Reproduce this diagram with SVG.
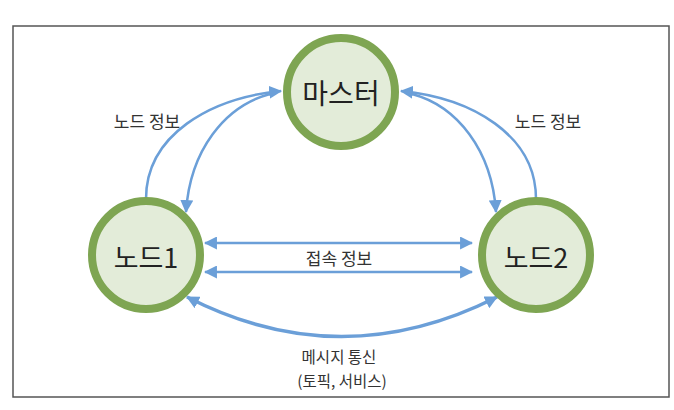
<svg xmlns="http://www.w3.org/2000/svg" width="674" height="410" viewBox="0 0 674 410">
<style>
.node ellipse{fill:#e3ecd9;stroke:#7ea552;stroke-width:8}
.ntxt{font-family:"Noto Sans CJK KR","Noto Sans",sans-serif;fill:#222;text-anchor:middle;dominant-baseline:central}
.lbl{font-family:"Noto Sans CJK KR","Noto Sans",sans-serif;fill:#333;text-anchor:middle;font-size:17px}
.sm{font-size:15.5px}
.conn{fill:none;stroke:#6b9fd8;stroke-width:2.5}
</style>
<defs>
<marker id="ah" viewBox="0 0 12 12" refX="11" refY="6" markerWidth="13" markerHeight="13" markerUnits="userSpaceOnUse" orient="auto-start-reverse">
<path d="M0,0 L12,6 L0,12 z" fill="#6b9fd8"/>
</marker>
</defs>
<rect x="0" y="0" width="674" height="410" fill="#fff"/>
<rect x="13" y="26" width="656" height="371" fill="none" stroke="#555" stroke-width="1.5"/>
<g id="connectors">
<path class="conn" d="M146,199 C146,135 210,98 281,91" marker-end="url(#ah)"/>
<path class="conn" d="M270,94 C225,106 190,150 186,212" marker-end="url(#ah)"/>
<path class="conn" d="M536,199 C536,135 472,98 401,91" marker-end="url(#ah)"/>
<path class="conn" d="M412,94 C457,106 492,150 496,212" marker-end="url(#ah)"/>
<path class="conn" d="M205,243 L472,243" marker-start="url(#ah)" marker-end="url(#ah)"/>
<path class="conn" d="M205,272 L472,272" marker-start="url(#ah)" marker-end="url(#ah)"/>
<path class="conn" style="stroke-width:3.5" d="M187,297 Q341,376 497,297" marker-start="url(#ah)" marker-end="url(#ah)"/>
</g>
<g id="master" class="node">
<ellipse cx="341" cy="92" rx="54" ry="54"/>
<text class="ntxt" x="341" y="92" font-size="28">마스터</text>
</g>
<g id="node1" class="node">
<ellipse cx="146" cy="255" rx="54" ry="54"/>
<text class="ntxt" x="146" y="256" font-size="27">노드1</text>
</g>
<g id="node2" class="node">
<ellipse cx="536" cy="255" rx="54" ry="54"/>
<text class="ntxt" x="536" y="256" font-size="27">노드2</text>
</g>
<g id="labels">
<text class="lbl" x="147" y="128">노드 정보</text>
<text class="lbl" x="548" y="128">노드 정보</text>
<text class="lbl" x="339" y="265">접속 정보</text>
<text class="lbl sm" x="339" y="363">메시지 통신</text>
<text class="lbl sm" x="342" y="387">(토픽, 서비스)</text>
</g>
</svg>
